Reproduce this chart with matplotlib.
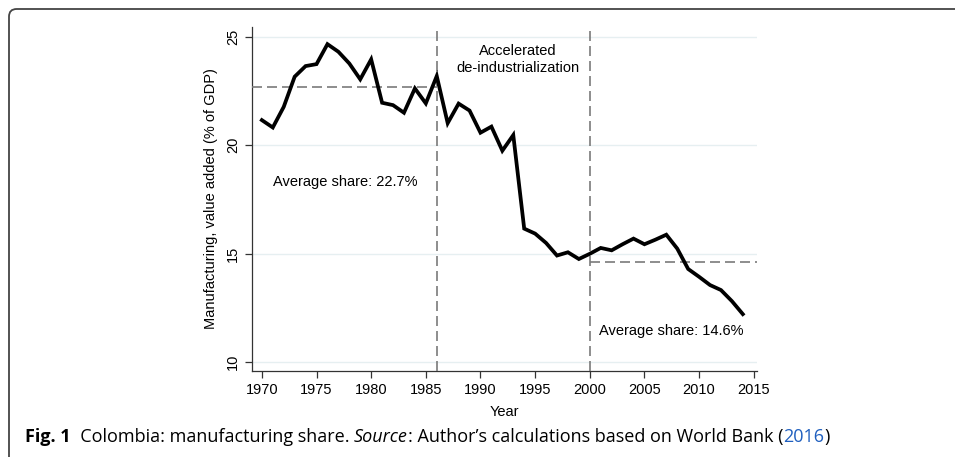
import numpy as np
import matplotlib.pyplot as plt
from matplotlib.patches import FancyBboxPatch

# manufacturing value added, % of GDP
years = list(range(1970, 2015))
share = [21.16, 20.82, 21.77, 23.16, 23.65, 23.74, 24.66, 24.31, 23.77, 23.04,
         23.96, 21.96, 21.85, 21.50, 22.62, 21.93, 23.19, 21.02, 21.92, 21.60,
         20.58, 20.86, 19.75, 20.47, 16.16, 15.93, 15.50, 14.92, 15.07, 14.76,
         15.00, 15.27, 15.16, 15.44, 15.70, 15.44, 15.65, 15.88, 15.24, 14.30,
         13.94, 13.56, 13.33, 12.82, 12.22]
breaks = [1986, 2000]
avg_early = 22.7
avg_late = 14.6
xticks = list(range(1970, 2020, 5))
yticks = [10, 15, 20, 25]

plt.rcParams['font.family'] = ['Liberation Sans', 'DejaVu Sans']

fig = plt.figure(figsize=(9.55, 4.57), dpi=100)
ax = fig.add_axes([0.2639, 0.1882, 0.5288, 0.7527])

dash_col = '#7a7a7a'
ax.plot(years, share, color='black', lw=2.7, solid_joinstyle='miter', zorder=4)
ax.hlines(avg_early, 1969.1, breaks[0], colors=dash_col, lw=1.2,
          linestyles=(0, (6, 3)), zorder=3)
ax.hlines(avg_late, breaks[1], 2015.3, colors=dash_col, lw=1.2,
          linestyles=(0, (6, 3)), zorder=3)
for b in breaks:
    ax.axvline(b, color=dash_col, lw=1.2, ls=(0, (6, 3)), zorder=3)

ax.text(1993.4, 23.95, 'Accelerated\nde-industrialization', ha='center',
        va='center', fontsize=10.5, linespacing=1.3)
ax.text(1971.0, 18.3, 'Average share: 22.7%', ha='left', va='center', fontsize=10.5)
ax.text(2000.8, 11.45, 'Average share: 14.6%', ha='left', va='center', fontsize=10.5)

ax.set_xlim(1969.1, 2015.3)
ax.set_ylim(9.6, 25.45)
ax.set_xticks(xticks)
ax.set_yticks(yticks)
ax.grid(axis='y', color='#e6eff1', lw=1.0)
ax.set_axisbelow(True)
for s in ['top', 'right']:
    ax.spines[s].set_visible(False)
for s in ['left', 'bottom']:
    ax.spines[s].set_color('#333333')
    ax.spines[s].set_linewidth(0.9)
ax.tick_params(axis='both', labelsize=10.5, color='#333333', length=5, width=0.9)
for lab in ax.get_yticklabels():
    lab.set_rotation(90)
    lab.set_va('center')
ax.set_xlabel('Year', fontsize=10.5, labelpad=6)
ax.set_ylabel('Manufacturing, value added (% of GDP)', fontsize=10.5, labelpad=6)

# frame around figure
box = FancyBboxPatch((9 / 955, -0.02), 1.05, 1 - 9 / 457 + 0.02,
                     boxstyle='round,pad=0,rounding_size=0.008',
                     transform=fig.transFigure, fill=False,
                     edgecolor='#444444', lw=1.3, mutation_aspect=955 / 457)
fig.add_artist(box)

# caption, built piece by piece
cap_font = ['Open Sans', 'DejaVu Sans']
fs = 13
t1 = fig.text(25 / 955, 1 - 437 / 457, 'Fig. 1', fontsize=fs, fontweight='bold',
              family=cap_font, va='center')
a2 = fig.add_artist(plt.Annotation('  Colombia: manufacturing share. ', xy=(1, 0),
                                   xycoords=t1, va='bottom', fontsize=fs,
                                   family=cap_font))
a3 = fig.add_artist(plt.Annotation('Source', xy=(1, 0), xycoords=a2, va='bottom',
                                   fontsize=fs, family=cap_font, style='italic'))
a4 = fig.add_artist(plt.Annotation(": Author\u2019s calculations based on World Bank (",
                                   xy=(1, 0), xycoords=a3, va='bottom',
                                   fontsize=fs, family=cap_font))
a5 = fig.add_artist(plt.Annotation('2016', xy=(1, 0), xycoords=a4, va='bottom',
                                   fontsize=fs, family=cap_font, color='#1f5fbf'))
a6 = fig.add_artist(plt.Annotation(')', xy=(1, 0), xycoords=a5, va='bottom',
                                   fontsize=fs, family=cap_font))

fig.savefig('out.png', dpi=100)
